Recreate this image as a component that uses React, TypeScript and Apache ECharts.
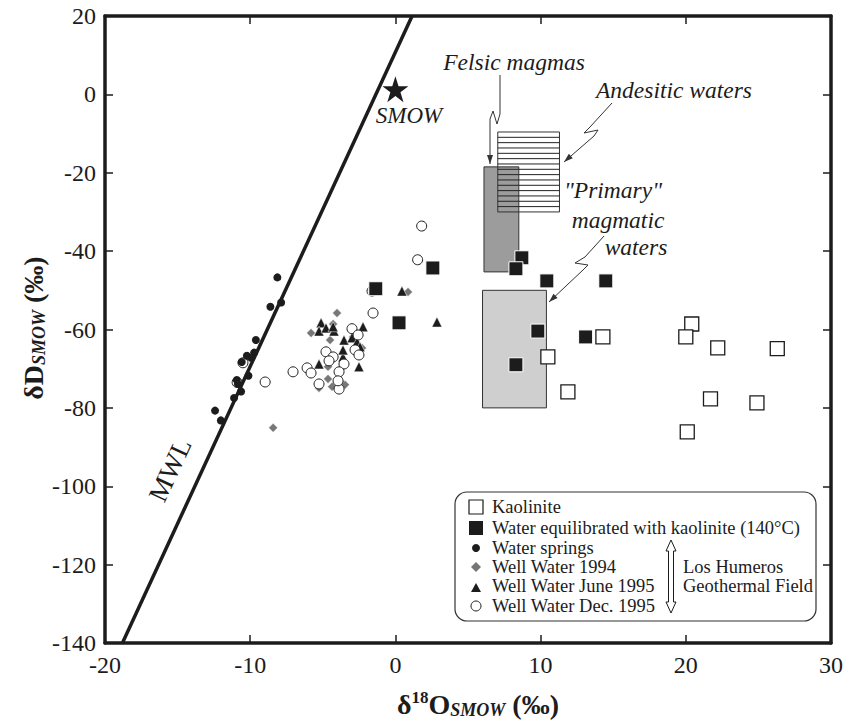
import React, { useEffect, useRef } from "react";
import * as echarts from "echarts";

// ---- data (δ18O, δD) ----
const kaolinite: number[][] = [
  [14.29, -61.9], [10.5, -67.0], [11.88, -75.9], [20.41, -58.6], [20.0, -61.9],
  [22.2, -64.7], [26.3, -64.9], [21.7, -77.7], [24.9, -78.7], [20.1, -86.1],
];
const waterEquilibrated: number[][] = [
  [-1.35, -49.6], [2.58, -44.3], [0.25, -58.3], [8.71, -41.7], [8.3, -44.5],
  [10.43, -47.6], [14.49, -47.6], [9.81, -60.4], [8.3, -69.0], [13.1, -61.9],
];
const waterSprings: number[][] = [
  [-8.13, -46.7], [-8.61, -54.2], [-7.87, -53.1], [-9.61, -62.7], [-10.23, -66.7],
  [-9.73, -65.9], [-10.58, -68.3], [-9.94, -67.2], [-10.12, -71.8], [-10.92, -72.9],
  [-10.85, -73.9], [-10.63, -75.8], [-11.11, -77.5], [-12.42, -80.7], [-12.02, -83.2],
];
const wellWater1994: number[][] = [
  [-4.02, -55.8], [-5.81, -60.9], [-4.29, -58.6], [-4.5, -62.7], [-4.64, -69.5],
  [-5.26, -74.9], [-4.64, -72.6], [-4.36, -74.6], [-3.47, -74.1], [-2.3, -64.7],
  [-2.92, -61.9], [-3.7, -69.8], [-8.42, -85.1], [0.87, -50.4],
];
const wellWaterJune1995: number[][] = [
  [-5.12, -58.3], [-5.26, -60.4], [-4.78, -59.6], [-4.23, -60.4], [-4.29, -59.3],
  [-2.23, -59.3], [-3.54, -62.7], [-2.99, -62.1], [-2.64, -63.2], [-2.44, -64.4],
  [-3.61, -67.0], [-3.61, -65.2], [-5.26, -68.8], [-2.51, -69.5], [-3.88, -72.1],
  [0.45, -50.2], [2.86, -58.1],
];
const wellWaterDec1995: number[][] = [
  [1.81, -33.6], [1.53, -42.2], [-1.61, -50.2], [-1.54, -55.8], [-2.99, -59.8],
  [-2.57, -61.4], [-2.78, -65.2], [-2.51, -66.5], [-4.78, -65.7], [-4.29, -67.0],
  [-4.57, -68.0], [-3.54, -68.8], [-3.88, -70.8], [-6.08, -69.8], [-5.81, -71.1],
  [-7.05, -70.8], [-5.26, -73.9], [-3.88, -75.2], [-3.95, -73.1], [-8.97, -73.4],
  [-10.5, -68.5], [-10.9, -73.5],
];
const smow: number[][] = [[0, 1.3]];
const mwlLine: number[][] = [[-18.8, -140], [1.15, 20]];
// boxes: [x1, x2, yTop, yBottom]
const primaryMagmaticBox: number[][] = [[6.0, 10.4, -50, -80]];
const felsicMagmasBox: number[][] = [[6.1, 8.5, -18.5, -45.3]];
const andesiticWatersBox: number[][] = [[7.05, 11.3, -9.6, -30]];

const SERIF = "'Liberation Serif', 'Times New Roman', serif";
const INK = "#1c1c1c";

function boxRenderer(fill: string, hatch: number) {
  return (params: any, api: any) => {
    const p1 = api.coord([api.value(0), api.value(2)]);
    const p2 = api.coord([api.value(1), api.value(3)]);
    const x = p1[0], y = p1[1], w = p2[0] - p1[0], h = p2[1] - p1[1];
    const children: any[] = [
      { type: "rect", shape: { x, y, width: w, height: h }, style: { fill, stroke: "#333", lineWidth: 1 } },
    ];
    for (let i = 1; i < hatch; i++) {
      const yy = y + (h * i) / hatch;
      children.push({ type: "line", shape: { x1: x, y1: yy, x2: x + w, y2: yy }, style: { stroke: "#222", lineWidth: 1 } });
    }
    return { type: "group", children };
  };
}

function arrow(points: number[][]): any[] {
  const n = points.length;
  const [x2, y2] = points[n - 1];
  const [x1, y1] = points[n - 2];
  const ang = Math.atan2(y2 - y1, x2 - x1);
  const L = 9, W = 3;
  const bx = x2 - L * Math.cos(ang), by = y2 - L * Math.sin(ang);
  const px = -Math.sin(ang) * W, py = Math.cos(ang) * W;
  return [
    { type: "polyline", shape: { points }, style: { stroke: "#333", lineWidth: 1, fill: "none" } },
    { type: "polygon", shape: { points: [[x2, y2], [bx + px, by + py], [bx - px, by - py]] }, style: { fill: "#333" } },
  ];
}

function txt(x: number, y: number, text: string, size: number, extra: any = {}) {
  return {
    type: "text", x, y,
    style: { text, fontFamily: SERIF, fontSize: size, fill: INK, align: "center", verticalAlign: "middle", ...extra },
  };
}

export default function App() {
  const ref = useRef<HTMLDivElement>(null);
  useEffect(() => {
    const chart = echarts.init(ref.current!, null, { renderer: "svg" });
    const axisCommon = {
      type: "value" as const,
      axisLine: { show: true, onZero: false, lineStyle: { color: INK, width: 3.5 } },
      axisTick: { show: true, inside: true, length: 8, lineStyle: { color: INK, width: 1.5 } },
      splitLine: { show: false },
    };
    const labelStyle = { fontFamily: SERIF, fontSize: 24, color: INK };

    const legendY = [507, 528, 548, 567, 586, 606];
    const legendLabels = [
      "Kaolinite",
      "Water equilibrated with kaolinite (140°C)",
      "Water springs",
      "Well Water 1994",
      "Well Water June 1995",
      "Well Water Dec. 1995",
    ];
    const sx = 476;
    const lf = 18.5;

    const graphic: any[] = [
      // annotations
      txt(514, 62, "Felsic magmas", 23.5, { fontStyle: "italic" }),
      txt(674, 90, "Andesitic waters", 23.5, { fontStyle: "italic" }),
      txt(613, 190, "\"Primary\"", 23.5, { fontStyle: "italic" }),
      txt(618, 220, "magmatic", 23.5, { fontStyle: "italic" }),
      txt(636, 247, "waters", 23.5, { fontStyle: "italic" }),
      txt(409, 115, "SMOW", 23, { fontStyle: "italic" }),
      { ...txt(170, 470, "MWL", 27), rotation: (65 * Math.PI) / 180 },
      ...arrow([[500, 75], [500, 114], [497, 124], [493, 111], [490, 119], [490, 164]]),
      ...arrow([[612, 103], [590, 127], [584, 133], [598, 130], [594, 136], [564, 162]]),
      ...arrow([[604, 236], [585, 257], [575, 263], [588, 265], [583, 270], [549, 302]]),
      // axis titles
      {
        type: "text", x: 478, y: 704,
        style: {
          text: "{b|δ}{sup|18}{b|O}{sub|SMOW}{b| (‰)}",
          align: "center", verticalAlign: "middle", fill: INK,
          rich: {
            b: { fontFamily: SERIF, fontSize: 28, fontWeight: "bold", lineHeight: 30, fill: INK },
            sup: { fontFamily: SERIF, fontSize: 17, fontWeight: "bold", lineHeight: 17, verticalAlign: "top", fill: INK },
            sub: { fontFamily: SERIF, fontSize: 18, fontWeight: "bold", fontStyle: "italic", lineHeight: 18, verticalAlign: "bottom", fill: INK },
          },
        },
      },
      {
        type: "text", x: 33, y: 328, rotation: Math.PI / 2,
        style: {
          text: "{b|δD}{sub|SMOW}{b| (‰)}",
          align: "center", verticalAlign: "middle", fill: INK,
          rich: {
            b: { fontFamily: SERIF, fontSize: 28, fontWeight: "bold", lineHeight: 30, fill: INK },
            sub: { fontFamily: SERIF, fontSize: 18, fontWeight: "bold", fontStyle: "italic", lineHeight: 18, verticalAlign: "bottom", fill: INK },
          },
        },
      },
      // legend box
      { type: "rect", shape: { x: 455, y: 492, width: 361, height: 129, r: 12 }, style: { fill: "#fff", stroke: "#333", lineWidth: 1.2 }, z: 10 },
      { type: "rect", shape: { x: sx - 7, y: legendY[0] - 7, width: 14, height: 14 }, style: { fill: "#fff", stroke: INK, lineWidth: 1.2 }, z: 11 },
      { type: "rect", shape: { x: sx - 7, y: legendY[1] - 7, width: 14, height: 14 }, style: { fill: INK }, z: 11 },
      { type: "circle", shape: { cx: sx, cy: legendY[2], r: 4 }, style: { fill: INK }, z: 11 },
      { type: "polygon", shape: { points: [[sx, legendY[3] - 5], [sx + 5, legendY[3]], [sx, legendY[3] + 5], [sx - 5, legendY[3]]] }, style: { fill: "#777" }, z: 11 },
      { type: "polygon", shape: { points: [[sx, legendY[4] - 3], [sx + 5, legendY[4] + 6], [sx - 5, legendY[4] + 6]] }, style: { fill: INK }, z: 11 },
      { type: "circle", shape: { cx: sx, cy: legendY[5], r: 5 }, style: { fill: "#fff", stroke: INK, lineWidth: 1 }, z: 11 },
      ...legendLabels.map((l, i) => ({
        type: "text", x: 492, y: legendY[i], z: 11,
        style: { text: l, fontFamily: SERIF, fontSize: lf, fill: INK, align: "left", verticalAlign: "middle" },
      })),
      {
        type: "polygon", z: 11,
        shape: { points: [[671, 540], [676, 551], [673.5, 551], [673.5, 602], [676, 602], [671, 613], [666, 602], [668.5, 602], [668.5, 551], [666, 551]] },
        style: { fill: "#fff", stroke: INK, lineWidth: 1 },
      },
      { type: "text", x: 683, y: 567, z: 11, style: { text: "Los Humeros", fontFamily: SERIF, fontSize: lf, fill: INK, align: "left", verticalAlign: "middle" } },
      { type: "text", x: 683, y: 586, z: 11, style: { text: "Geothermal Field", fontFamily: SERIF, fontSize: lf, fill: INK, align: "left", verticalAlign: "middle" } },
    ];

    const option: any = {
      animation: false,
      backgroundColor: "#fff",
      grid: { left: 105, right: 17, top: 16, bottom: 80 },
      xAxis: [
        { ...axisCommon, position: "bottom", min: -20, max: 30, interval: 10, axisLabel: { ...labelStyle, margin: 10 } },
        { ...axisCommon, position: "top", min: -20, max: 30, interval: 10, axisLabel: { show: false } },
      ],
      yAxis: [
        { ...axisCommon, position: "left", min: -140, max: 20, interval: 20, axisLabel: { ...labelStyle, margin: 9 } },
        { ...axisCommon, position: "right", min: -140, max: 20, interval: 20, axisLabel: { show: false } },
      ],
      series: [
        { name: "Primary magmatic waters", type: "custom", data: primaryMagmaticBox, renderItem: boxRenderer("#cfcfcf", 0), silent: true },
        { name: "Felsic magmas", type: "custom", data: felsicMagmasBox, renderItem: boxRenderer("#9c9c9c", 0), silent: true },
        { name: "Andesitic waters", type: "custom", data: andesiticWatersBox, renderItem: boxRenderer("none", 15), silent: true },
        { name: "MWL", type: "line", data: mwlLine, symbol: "none", lineStyle: { color: INK, width: 3.5 }, silent: true },
        { name: "Well Water 1994", type: "scatter", data: wellWater1994, symbol: "diamond", symbolSize: 9, itemStyle: { color: "#777", borderColor: "#fff", borderWidth: 0.5, opacity: 1 } },
        { name: "Well Water June 1995", type: "scatter", data: wellWaterJune1995, symbol: "triangle", symbolSize: 10, itemStyle: { color: INK, borderColor: "#fff", borderWidth: 0.5, opacity: 1 } },
        { name: "Well Water Dec. 1995", type: "scatter", data: wellWaterDec1995, symbol: "circle", symbolSize: 10, itemStyle: { color: "#fff", borderColor: INK, borderWidth: 1, opacity: 1 } },
        { name: "Water springs", type: "scatter", data: waterSprings, symbol: "circle", symbolSize: 8, itemStyle: { color: INK, opacity: 1 } },
        { name: "Kaolinite", type: "scatter", data: kaolinite, symbol: "rect", symbolSize: 14, itemStyle: { color: "#fff", borderColor: INK, borderWidth: 1.3, opacity: 1 } },
        { name: "Water equilibrated with kaolinite (140°C)", type: "scatter", data: waterEquilibrated, symbol: "rect", symbolSize: 14, itemStyle: { color: INK, borderColor: "#fff", borderWidth: 1, opacity: 1 } },
        {
          name: "SMOW", type: "scatter", data: smow,
          symbol: "path://M50,0 L61.8,35.1 L98.9,35.1 L69,57 L80.4,92.7 L50,70.5 L19.6,92.7 L31,57 L1.1,35.1 L38.2,35.1 Z",
          symbolSize: 26, itemStyle: { color: INK, opacity: 1 },
        },
      ],
      graphic,
    };
    chart.setOption(option);
    return () => chart.dispose();
  }, []);
  return (
    <div
      ref={ref}
      style={{ position: "fixed", left: 0, top: 0, width: 848, height: 723, background: "#fff" }}
    />
  );
}
